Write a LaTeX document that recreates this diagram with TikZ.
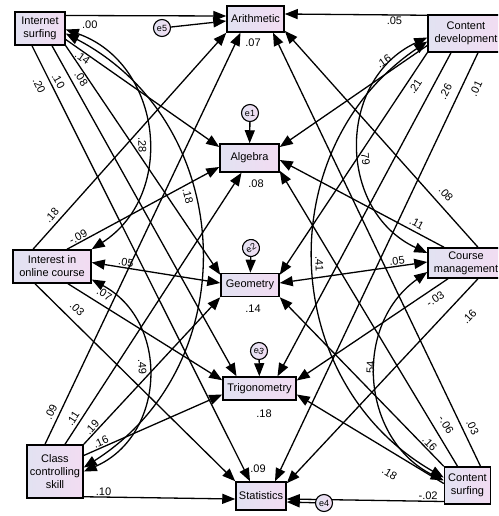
\documentclass[tikz,border=0pt]{standalone}
\usepackage{fontspec}
\setmainfont{Liberation Sans}
\usetikzlibrary{arrows.meta}
\definecolor{boxl}{HTML}{E2E2F2}
\definecolor{boxr}{HTML}{F2DCF2}
\newcommand{\regp}[5]{\draw[reg] (#1) -- node[wt,pos=#4,#5] {#3} (#2);}
\newcommand{\covp}[5]{\draw[cov] (#1) to[#4] node[wt,#5] {#3} (#2);}
\tikzset{
  var/.style={draw, line width=1.5pt, left color=boxl, right color=boxr, inner sep=1pt, align=center, font=\fontsize{11}{13}\selectfont},
  err/.style={circle, draw, line width=1.1pt, left color=boxl, right color=boxr, inner sep=0pt, minimum size=17pt, font=\fontsize{9}{9}\selectfont},
  reg/.style={line width=1.3pt, -{Triangle[length=13pt,width=10pt]}},
  cov/.style={line width=1.3pt, {Triangle[length=13pt,width=10pt]}-{Triangle[length=13pt,width=10pt]}},
  wt/.style={font=\fontsize{11}{11}\selectfont, inner sep=1pt, sloped},
  r2/.style={font=\fontsize{11}{11}\selectfont, inner sep=1pt},
}
\begin{document}
\begin{tikzpicture}[x=1pt, y=-1pt]
        \useasboundingbox (0,0) rectangle (498,516);
        \clip (0,0) rectangle (498,516);
        % left column
        \node[var, minimum width=50pt, minimum height=33pt] (isurf) at (40,28.5) {Internet\\surfing};
        \node[var, minimum width=78pt, minimum height=33pt] (intr) at (52,266.5) {Interest in\\online course};
        \node[var, minimum width=56pt, minimum height=53pt] (clss) at (55,471.5) {Class\\controlling\\skill};
        % right column
        \node[var, minimum width=76pt, minimum height=37pt] (cdev) at (466,33.5) {Content\\development};
        \node[var, minimum width=76pt, minimum height=30pt] (cmgt) at (466,263) {Course\\management};
        \node[var, minimum width=46pt, minimum height=37pt] (csrf) at (467.5,485.5) {Content\\surfing};
        % middle column
        \node[var, minimum width=57pt, minimum height=26pt] (arith) at (255.5,19) {Arithmetic};
        \node[var, minimum width=59pt, minimum height=28pt] (alg) at (249.5,158) {Algebra};
        \node[var, minimum width=58pt, minimum height=23pt] (geo) at (250,285) {Geometry};
        \node[var, minimum width=73pt, minimum height=23pt] (trig) at (259.5,388.5) {Trigonometry};
        \node[var, minimum width=50pt, minimum height=28pt] (stat) at (261,496) {Statistics};
        % errors
        \node[err] (e5) at (162,28) {e5};
        \node[err] (e1) at (250,113) {e1};
        \node[err, rotate=30] (e2) at (251,248) {e2};
        \node[err, rotate=-20] (e3) at (259,351) {e3};
        % squared multiple correlations
        \node[r2] (r2arith) at (253,43) {.07};
        \node[r2] (r2alg) at (256,184) {.08};
        \node[r2] (r2geo) at (253,309) {.14};
        \node[r2] (r2trig) at (264,414) {.18};
        \node[r2] (r2stat) at (258,469) {.09};

        % from Internet surfing
        \regp{[yshift=13pt]isurf.east}{[yshift=3pt]arith.west}{.00}{0.15}{below=4pt}
        \regp{[yshift=-11pt]isurf.east}{[yshift=11pt]alg.west}{.14}{0.13}{below}
        \regp{isurf.south east}{[yshift=-2pt]geo.north west}{.08}{0.13}{below}
        \regp{[xshift=12pt]isurf.south}{[xshift=-23pt]trig.north}{.10}{0.09}{below=6pt}
        \regp{[xshift=-8pt]isurf.south}{[xshift=-11pt]stat.north}{.20}{0.08}{below=6pt}
        % from Interest in online course
        \regp{[xshift=-19pt]intr.north}{arith.south west}{.18}{0.13}{above=3pt}
        \regp{[xshift=15pt]intr.north}{[yshift=-9pt]alg.west}{-.09}{0.09}{above}
        \draw[cov] ([yshift=4pt]intr.east) -- node[wt,pos=0.26,above] {.05} ([yshift=2pt]geo.west);
        \regp{[xshift=16pt]intr.south}{[yshift=-4pt]trig.north west}{.07}{0.2}{above=5pt}
        \regp{[xshift=-17pt]intr.south}{stat.north west}{.03}{0.17}{above=6pt}
        % from Class controlling skill
        \regp{[xshift=-10pt]clss.north}{[xshift=-15pt]arith.south}{.09}{0.07}{above=3pt}
        \regp{[xshift=10pt]clss.north}{[xshift=-8pt]alg.south}{.11}{0.08}{above=2pt}
        \regp{clss.north east}{geo.south west}{.19}{0.09}{above}
        \regp{[yshift=16pt]clss.east}{[yshift=-6pt]trig.west}{.16}{0.14}{above}
        \regp{[yshift=2pt]clss.south east}{[yshift=-3pt]stat.west}{.10}{0.13}{above}
        % from Content development
        \regp{[yshift=-1pt]cdev.north west}{[yshift=5pt]arith.east}{.05}{0.23}{below}
        \regp{[yshift=-12pt]cdev.west}{[yshift=11pt]alg.east}{.16}{0.25}{above=6pt}
        \regp{cdev.south west}{[yshift=-2pt]geo.north east}{.21}{0.13}{below=3pt}
        \regp{[xshift=-15pt]cdev.south}{[xshift=18pt]trig.north}{.26}{0.1}{below=8pt}
        \regp{[xshift=12pt]cdev.south}{[xshift=14pt]stat.north}{.01}{0.07}{below=8pt}
        % from Course management
        \regp{[xshift=12pt]cmgt.north}{[yshift=2pt]arith.south east}{.08}{0.21}{above=6pt}
        \regp{[xshift=-22pt]cmgt.north}{[yshift=-2pt]alg.east}{.11}{0.19}{above=3pt}
        \draw[cov] ([yshift=1pt]cmgt.west) -- node[wt,pos=0.2,above] {.05} ([yshift=2pt]geo.east);
        \regp{[xshift=-18pt]cmgt.south}{[yshift=8pt]trig.east}{-.03}{0.12}{below=4pt}
        \regp{[xshift=12pt]cmgt.south}{[yshift=-2pt]stat.north east}{.16}{0.12}{below=14pt}
        % from Content surfing
        \regp{[xshift=13pt]csrf.north}{[xshift=17.5pt]arith.south}{.03}{0.08}{above=4pt}
        \regp{[xshift=-10pt]csrf.north}{[yshift=2pt]alg.south east}{-.06}{0.12}{above=6pt}
        \regp{csrf.north west}{geo.south east}{.16}{0.11}{above}
        \regp{[yshift=2pt]csrf.west}{[yshift=-6pt]trig.east}{.18}{0.3}{below=14pt}
        \regp{[yshift=-16pt]csrf.west}{[yshift=-3pt]stat.east}{-.02}{0.1}{above}

        % covariances, left
        \covp{[yshift=-1pt]isurf.east}{intr.north east}{.28}{bend left=64, looseness=1.18}{pos=0.55, below}
        \covp{[yshift=-5pt]isurf.east}{[yshift=4pt]clss.east}{.18}{bend left=60, looseness=1.14}{pos=0.4, below}
        \covp{[yshift=-13pt]intr.east}{clss.east}{.49}{bend left=64, looseness=1.19}{pos=0.45, below}
        % covariances, right
        \covp{[yshift=-4pt]cdev.west}{[yshift=10pt]cmgt.west}{.79}{bend right=65, looseness=1.19}{pos=0.55, above}
        \covp{[yshift=-8pt]cdev.west}{[yshift=8pt]csrf.west}{.41}{bend right=58, looseness=1.12}{pos=0.5, above}
        \covp{[yshift=-9pt]cmgt.west}{[yshift=5pt]csrf.west}{.54}{bend right=59, looseness=1.13}{pos=0.45, above}

        % error terms
        \draw[reg] (e5) -- ([yshift=-2pt]arith.west);
        \draw[reg] (e1) -- (alg);
        \draw[reg] (e2) -- (geo);
        \draw[reg] (e3) -- (trig);
        \node[err] (e4) at (324,503) {e4};
        \draw[reg] (e4) -- ([yshift=-6pt]stat.east);
\end{tikzpicture}
\end{document}
